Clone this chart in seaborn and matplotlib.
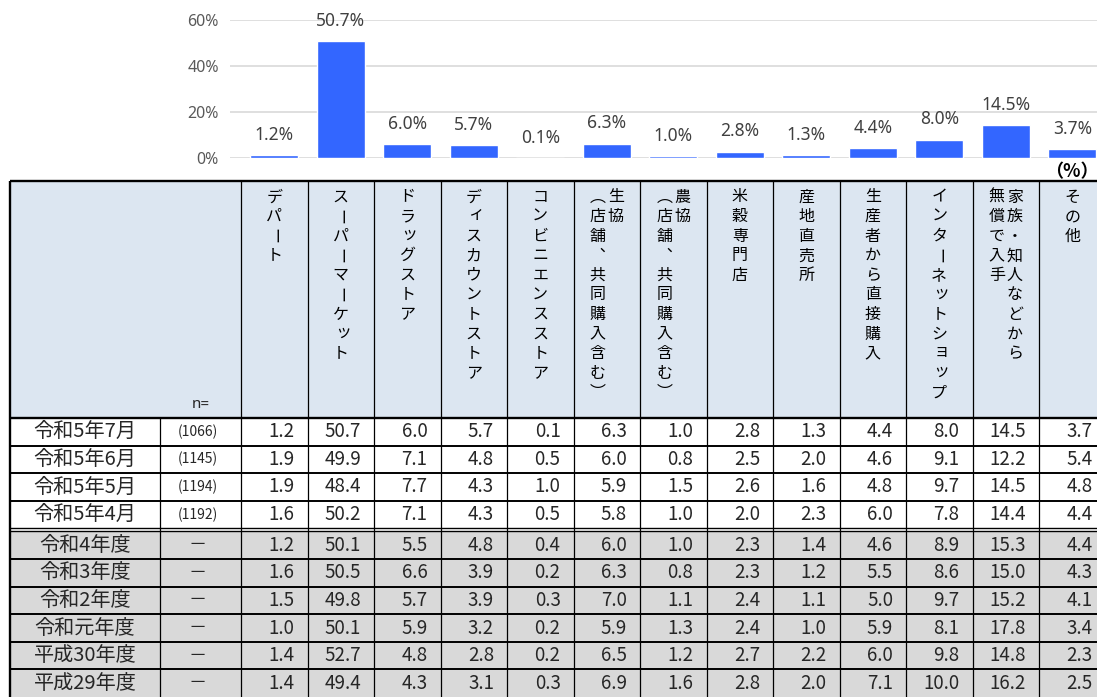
import matplotlib
matplotlib.use('Agg')
import matplotlib.pyplot as plt
import seaborn as sns
from matplotlib.patches import Rectangle

categories = ['デパート', 'スーパーマーケット', 'ドラッグストア', 'ディスカウントストア',
              'コンビニエンスストア', '生協（店舗、共同購入含む）', '農協（店舗、共同購入含む）',
              '米穀専門店', '産地直売所', '生産者から直接購入', 'インターネットショップ',
              '家族・知人などから無償で入手', 'その他']
header_lines = [['デパート'], ['スーパーマーケット'], ['ドラッグストア'], ['ディスカウントストア'],
                ['コンビニエンスストア'], ['生協', '（店舗、共同購入含む）'],
                ['農協', '（店舗、共同購入含む）'], ['米穀専門店'], ['産地直売所'],
                ['生産者から直接購入'], ['インターネットショップ'],
                ['家族・知人などから', '無償で入手'], ['その他']]
row_labels = ['令和5年7月', '令和5年6月', '令和5年5月', '令和5年4月', '令和4年度',
              '令和3年度', '令和2年度', '令和元年度', '平成30年度', '平成29年度']
n_labels = ['(1066)', '(1145)', '(1194)', '(1192)', '－', '－', '－', '－', '－', '－']
values = [
    [1.2, 50.7, 6.0, 5.7, 0.1, 6.3, 1.0, 2.8, 1.3, 4.4, 8.0, 14.5, 3.7],
    [1.9, 49.9, 7.1, 4.8, 0.5, 6.0, 0.8, 2.5, 2.0, 4.6, 9.1, 12.2, 5.4],
    [1.9, 48.4, 7.7, 4.3, 1.0, 5.9, 1.5, 2.6, 1.6, 4.8, 9.7, 14.5, 4.8],
    [1.6, 50.2, 7.1, 4.3, 0.5, 5.8, 1.0, 2.0, 2.3, 6.0, 7.8, 14.4, 4.4],
    [1.2, 50.1, 5.5, 4.8, 0.4, 6.0, 1.0, 2.3, 1.4, 4.6, 8.9, 15.3, 4.4],
    [1.6, 50.5, 6.6, 3.9, 0.2, 6.3, 0.8, 2.3, 1.2, 5.5, 8.6, 15.0, 4.3],
    [1.5, 49.8, 5.7, 3.9, 0.3, 7.0, 1.1, 2.4, 1.1, 5.0, 9.7, 15.2, 4.1],
    [1.0, 50.1, 5.9, 3.2, 0.2, 5.9, 1.3, 2.4, 1.0, 5.9, 8.1, 17.8, 3.4],
    [1.4, 52.7, 4.8, 2.8, 0.2, 6.5, 1.2, 2.7, 2.2, 6.0, 9.8, 14.8, 2.3],
    [1.4, 49.4, 4.3, 3.1, 0.3, 6.9, 1.6, 2.8, 2.0, 7.1, 10.0, 16.2, 2.5],
]

sns.set_style('white')
plt.rcParams['font.family'] = ['Noto Sans CJK JP', 'DejaVu Sans']

W, H = 1097, 697
fig = plt.figure(figsize=(W / 100, H / 100), dpi=100)

# table geometry (pixels)
TBL_L, LABEL_R, COL0, COL_W = 10, 160, 241, 66.5
HEAD_TOP, HEAD_BOT, ROW_H, GAP = 181, 418, 27.6, 3
n_cols = len(categories)

ax_t = fig.add_axes([0, 0, 1, 1])
ax_t.set_xlim(0, W)
ax_t.set_ylim(H, 0)
ax_t.axis('off')

def row_top(i):
    return HEAD_BOT + i * ROW_H + (GAP if i >= 4 else 0)

right_edge = COL0 + n_cols * COL_W
ax_t.add_patch(Rectangle((TBL_L, HEAD_TOP), right_edge - TBL_L, HEAD_BOT - HEAD_TOP,
                         fc='#dce6f1', ec='none'))
for i in range(len(row_labels)):
    fc = 'white' if i < 4 else '#d9d9d9'
    ax_t.add_patch(Rectangle((TBL_L, row_top(i)), right_edge - TBL_L, ROW_H, fc=fc, ec='none'))

# horizontal rules
ax_t.hlines([HEAD_TOP, HEAD_BOT], TBL_L, right_edge, color='black', lw=1.7)
for i in range(1, len(row_labels)):
    if i == 4:
        ax_t.hlines([row_top(4) - GAP, row_top(4)], TBL_L, right_edge, color='black', lw=1.0)
    else:
        ax_t.hlines(row_top(i), TBL_L, right_edge, color='black', lw=1.4)
# vertical rules
ax_t.vlines(TBL_L, HEAD_TOP, H, color='black', lw=1.7)
ax_t.vlines(LABEL_R, HEAD_BOT, H, color='black', lw=0.9)
for k in range(n_cols):
    ax_t.vlines(COL0 + k * COL_W, HEAD_TOP, H, color='black', lw=0.9)

# header text (vertical writing, first line on the right)
vert_map = {'（': '\ufe35', '）': '\ufe36', '、': '\ufe11'}
small_kana = set('ッィャュョァ')
for k, lines in enumerate(header_lines):
    cx = COL0 + (k + 0.5) * COL_W
    offs = [0] if len(lines) == 1 else [9, -9]
    for line, dx in zip(lines, offs):
        for j, ch in enumerate(line):
            y = 197 + j * 19.6
            x = cx + dx
            rot = 0
            if ch in ('ー', '－'):
                rot = 270
            elif ch in small_kana:
                x += 2
                y -= 2
            ax_t.text(x, y, vert_map.get(ch, ch), ha='center', va='center',
                      fontsize=11.5, rotation=rot, color='black')

ax_t.text(201, 405, 'n=', ha='center', va='center', fontsize=11, family='Noto Sans')

# body
for i, lab in enumerate(row_labels):
    cy = row_top(i) + ROW_H / 2
    ax_t.text((TBL_L + LABEL_R) / 2, cy, lab, ha='center', va='center', fontsize=14.5)
    ax_t.text((LABEL_R + COL0) / 2 - 3, cy, n_labels[i], ha='center', va='center',
              fontsize=10 if i < 4 else 13)
    for k, v in enumerate(values[i]):
        ax_t.text(COL0 + (k + 1) * COL_W - 13, cy, f'{v:.1f}', ha='right', va='center',
                  fontsize=13.5)

# bar chart on top
ZERO_Y, TOP_Y = 158, 20
x_left = COL0 - 11
ax_b = fig.add_axes([x_left / W, 1 - ZERO_Y / H, (right_edge - x_left) / W, (ZERO_Y - TOP_Y) / H])
sns.barplot(x=categories, y=values[0], color='#3366ff', saturation=1, width=0.72, ax=ax_b)
ax_b.set_xlim(-0.5 - 11 / COL_W, n_cols - 0.5)
ax_b.set_ylim(0, 60)
ax_b.set_yticks([0, 20, 40, 60])
ax_b.set_yticklabels([f'{t}%' for t in [0, 20, 40, 60]], family='Noto Sans',
                     fontsize=11.5, color='#595959')
ax_b.set_xticks([])
ax_b.set_xlabel('')
ax_b.set_ylabel('')
ax_b.tick_params(axis='y', length=0, pad=8)
ax_b.yaxis.grid(True, color='#d9d9d9', lw=1.2)
ax_b.set_axisbelow(True)
for s in ax_b.spines.values():
    s.set_visible(False)
ax_b.patch.set_alpha(0)
ax_b.bar_label(ax_b.containers[0], labels=[f'{v:.1f}%' for v in values[0]], padding=8,
               fontsize=12.5, color='#404040', family='Noto Sans')

fig.text(1099 / W, 1 - 172 / H, '（%）', ha='right', va='center', fontsize=13,
         fontweight='bold', color='black')

fig.savefig('out.png', dpi=100)
